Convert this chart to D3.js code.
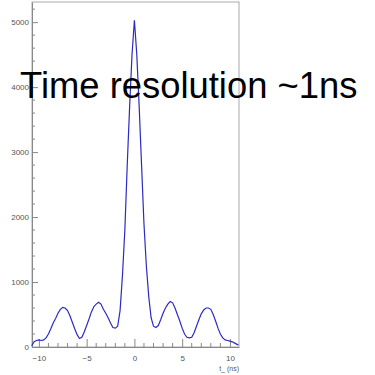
<!DOCTYPE html>
<html>
<head>
<meta charset="utf-8">
<script src="https://cdn.jsdelivr.net/npm/d3@7"></script>
<style>
  html, body { margin: 0; padding: 0; background: #fff; }
  svg { display: block; }
</style>
</head>
<body>
<svg width="375" height="375"></svg>
<script>
// time axis (ns), bins
const times = [
  -10.75, -10.5, -10.25, -10, -9.75, -9.5, -9.25, -9, -8.75, -8.5, -8.25, -8,
  -7.75, -7.5, -7.25, -7, -6.75, -6.5, -6.25, -6, -5.75, -5.5, -5.25, -5,
  -4.75, -4.5, -4.25, -4, -3.75, -3.5, -3.25, -3, -2.75, -2.5, -2.25, -2,
  -1.75, -1.5, -1.25, -1, -0.75, -0.5, -0.25, 0, 0.25, 0.5, 0.75, 1,
  1.25, 1.5, 1.75, 2, 2.25, 2.5, 2.75, 3, 3.25, 3.5, 3.75, 4,
  4.25, 4.5, 4.75, 5, 5.25, 5.5, 5.75, 6, 6.25, 6.5, 6.75, 7,
  7.25, 7.5, 7.75, 8, 8.25, 8.5, 8.75, 9, 9.25, 9.5, 9.75, 10,
  10.25, 10.5, 10.75, 10.9
];
const counts = [
  20, 80, 100, 110, 100, 110, 140, 200, 280, 370, 440, 520,
  580, 610, 600, 560, 480, 380, 280, 190, 130, 150, 230, 330,
  430, 540, 620, 660, 690, 660, 580, 520, 450, 370, 300, 290,
  320, 560, 1100, 1800, 2800, 3700, 4500, 5030, 4500, 3700, 2800, 1900,
  1250, 780, 450, 320, 300, 330, 420, 520, 600, 660, 700, 680,
  600, 500, 400, 290, 200, 150, 140, 150, 220, 320, 420, 510,
  570, 600, 600, 580, 500, 400, 290, 200, 140, 110, 100, 90,
  80, 60, 40, 30
];
const xTicks = [-10, -5, 0, 5, 10];
const yTicks = [0, 1000, 2000, 3000, 4000, 5000];
const title = 'Time resolution ~1ns';
const xTitle = 't_ (ns)';

const margin = { top: 2, right: 136, bottom: 28, left: 32 };
const width = 375;
const height = 375;
const plotW = width - margin.left - margin.right;
const plotH = height - margin.top - margin.bottom;

const svg = d3.select('svg');
const g = svg.append('g').attr('transform', `translate(${margin.left},${margin.top})`);

const x = d3.scaleLinear().domain([-10.72, 10.95]).range([0, plotW]);
const y = d3.scaleLinear().domain([0, 5310]).range([plotH, 0]);

const axisColor = '#888';
const labelColor = '#555';

// frame
g.append('rect')
  .attr('x', 0).attr('y', 0)
  .attr('width', plotW).attr('height', plotH)
  .attr('fill', 'none')
  .attr('stroke', '#aaa');

// minor ticks
const xMinor = d3.range(-10, 11, 1).filter((d) => !xTicks.includes(d));
const yMinor = d3.range(0, 5301, 200).filter((d) => !yTicks.includes(d));

g.append('g').selectAll('line').data(xMinor).join('line')
  .attr('x1', (d) => x(d)).attr('x2', (d) => x(d))
  .attr('y1', plotH).attr('y2', plotH - 4)
  .attr('stroke', axisColor);

g.append('g').selectAll('line').data(yMinor).join('line')
  .attr('x1', 0).attr('x2', 3)
  .attr('y1', (d) => y(d)).attr('y2', (d) => y(d))
  .attr('stroke', axisColor);

// axes
const xAxis = g.append('g')
  .attr('transform', `translate(0,${plotH})`)
  .call(d3.axisBottom(x).tickValues(xTicks).tickFormat(d3.format('d'))
    .tickSizeInner(-8).tickSizeOuter(0).tickPadding(12));

const yAxis = g.append('g')
  .call(d3.axisLeft(y).tickValues(yTicks).tickFormat(d3.format('d'))
    .tickSizeInner(-6).tickSizeOuter(0).tickPadding(9));

[xAxis, yAxis].forEach((a) => {
  a.selectAll('path').attr('stroke', axisColor);
  a.selectAll('line').attr('stroke', axisColor);
  a.selectAll('text')
    .attr('fill', labelColor)
    .style('font-family', 'Liberation Sans, Arial, sans-serif')
    .style('font-size', '8px');
});
yAxis.selectAll('text').attr('dx', '6');
xAxis.selectAll('text').attr('dy', '0.3em');

g.append('text')
  .attr('x', plotW)
  .attr('y', plotH + 24)
  .attr('text-anchor', 'end')
  .attr('fill', labelColor)
  .style('font-family', 'Liberation Sans, Arial, sans-serif')
  .style('font-size', '7px')
  .text(xTitle);

// histogram line
const data = times.map((t, i) => ({ t, c: counts[i] }));
g.append('path')
  .datum(data)
  .attr('fill', 'none')
  .attr('stroke', '#2b2bc4')
  .attr('stroke-width', 1.2)
  .attr('d', d3.line().x((d) => x(d.t)).y((d) => y(d.c)));

// overlay title
svg.append('text')
  .attr('x', 20)
  .attr('y', 98)
  .attr('fill', '#000')
  .style('font-family', 'Liberation Sans, Arial, sans-serif')
  .style('font-size', '36.4px')
  .text(title);
</script>
</body>
</html>
